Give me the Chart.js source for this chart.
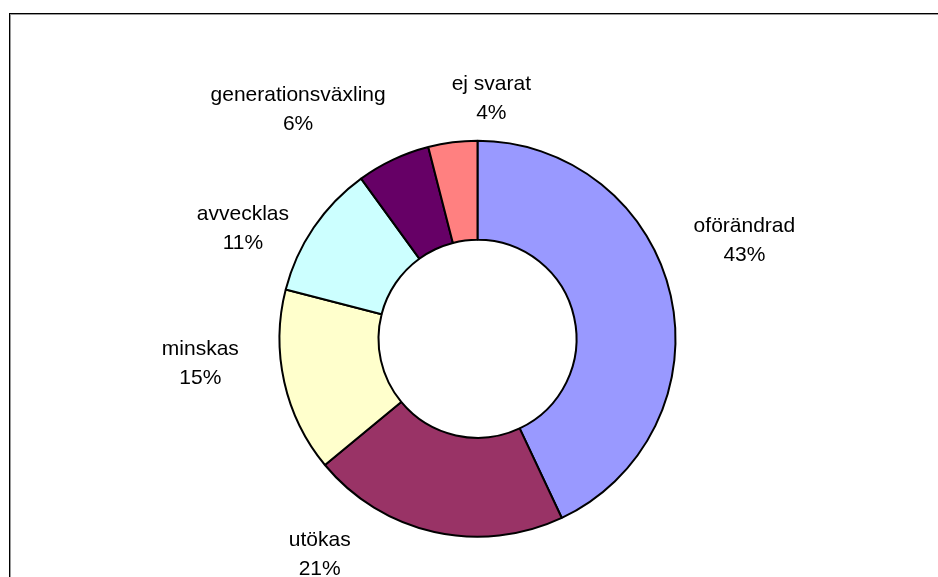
<!DOCTYPE html>
<html lang="sv">
<head>
<meta charset="utf-8">
<title>Framtida verksamhet</title>
<script src="https://cdn.jsdelivr.net/npm/chart.js@4/dist/chart.umd.min.js"></script>
<style>
  html, body { margin: 0; padding: 0; background: #fff; overflow: hidden; }
  #wrap { position: relative; width: 938px; height: 577px; }
  #frame {
    position: absolute; left: 9px; top: 13px; width: 1000px; height: 700px;
    border: 1px solid #000; box-shadow: inset 1px 1px 0 #9a9a9a;
    pointer-events: none;
  }
  canvas { position: absolute; left: 0; top: 0; }
</style>
</head>
<body>
<div id="wrap">
  <canvas id="chart" width="938" height="577"></canvas>
  <div id="frame"></div>
</div>
<script>
// Answers, clockwise from twelve o'clock
const categories = ['oförändrad', 'utökas', 'minskas', 'avvecklas', 'generationsväxling', 'ej svarat'];
const shares = [43, 21, 15, 11, 6, 4];
const sliceColors = ['#9999FF', '#993366', '#FFFFCC', '#CCFFFF', '#660066', '#FF8080'];

// Where each two-line label sits, in units of the ring's outer radius from its centre
const labelSpots = [
  [1.348, -0.500],
  [-0.797, 1.082],
  [-1.400, 0.119],
  [-1.185, -0.563],
  [-0.906, -1.161],
  [0.070, -1.217]
];

const labelFont = '21px "Liberation Sans", Arial, sans-serif';
const lineGap = 29;

const sliceLabels = {
  id: 'sliceLabels',
  afterDatasetsDraw(chart) {
    const ctx = chart.ctx;
    const meta = chart.getDatasetMeta(0);
    ctx.save();
    ctx.font = labelFont;
    ctx.fillStyle = '#000';
    ctx.textAlign = 'center';
    ctx.textBaseline = 'alphabetic';
    meta.data.forEach((arc, i) => {
      const r = arc.outerRadius;
      const x = arc.x + labelSpots[i][0] * r;
      const y = arc.y + labelSpots[i][1] * r;
      const v = chart.data.datasets[0].data[i];
      ctx.fillText(chart.data.labels[i], x, y - lineGap / 2 + 7);
      ctx.fillText(v + '%', x, y + lineGap / 2 + 7);
    });
    ctx.restore();
  }
};

new Chart(document.getElementById('chart'), {
  type: 'doughnut',
  data: {
    labels: categories,
    datasets: [{
      data: shares,
      backgroundColor: sliceColors,
      borderColor: '#000',
      borderWidth: 2,
      hoverOffset: 0
    }]
  },
  options: {
    responsive: false,
    animation: false,
    cutout: '50%',
    layout: { padding: { left: 278.5, right: 261.5, top: 139.8, bottom: 39.2 } },
    plugins: {
      legend: { display: false },
      title: { display: false },
      tooltip: { enabled: false }
    }
  },
  plugins: [sliceLabels]
});
</script>
</body>
</html>
